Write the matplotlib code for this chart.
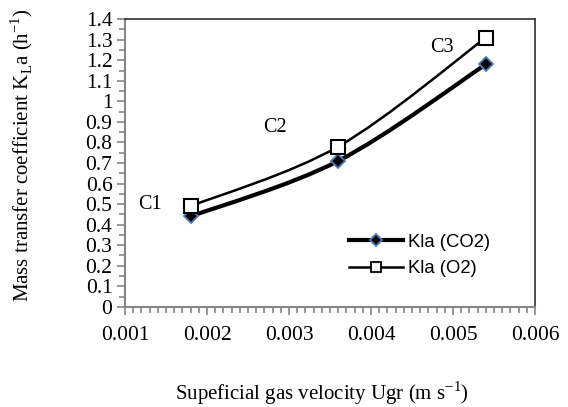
import numpy as np
import matplotlib
matplotlib.use("Agg")
import matplotlib.pyplot as plt
from matplotlib.path import Path
from matplotlib.patches import PathPatch
from matplotlib.lines import Line2D
from matplotlib.ticker import MultipleLocator

# data
ugr = [0.0018, 0.0036, 0.0054]
kla_co2 = [0.44, 0.71, 1.18]
kla_o2 = [0.49, 0.78, 1.31]
labels = ["C1", "C2", "C3"]
label_pos_x = [0.0013, 0.00283, 0.00487]
label_pos_y = [0.50, 0.875, 1.26]

plt.rcParams['font.family'] = ['Liberation Serif', 'DejaVu Serif']


def smooth_path(xs, ys):
    # Excel-like smoothed line: cubic Bezier through the points
    pts = np.column_stack([xs, ys]).astype(float)
    n = len(pts)
    verts = [pts[0]]
    codes = [Path.MOVETO]
    for i in range(n - 1):
        p0 = pts[i - 1] if i > 0 else pts[i]
        p1 = pts[i]
        p2 = pts[i + 1]
        p3 = pts[i + 2] if i + 2 < n else pts[i + 1]
        c1 = p1 + (p2 - p0) / 6
        c2 = p2 - (p3 - p1) / 6
        verts += [c1, c2, p2]
        codes += [Path.CURVE4] * 3
    return Path(verts, codes)


fig = plt.figure(figsize=(5.68, 4.07), dpi=100)
ax = fig.add_axes([0.220, 0.246, 0.722, 0.707])

ax.add_patch(PathPatch(smooth_path(ugr, kla_co2), facecolor='none',
                       edgecolor='black', lw=3.0, zorder=3))
ax.add_patch(PathPatch(smooth_path(ugr, kla_o2), facecolor='none',
                       edgecolor='black', lw=1.8, zorder=3))

ax.plot(ugr, kla_co2, linestyle='none', marker='D', ms=7, mfc='black',
        mec='#4a7ebb', mew=1.3, zorder=4)
ax.plot(ugr, kla_o2, linestyle='none', marker='s', ms=10, mfc='white',
        mec='black', mew=1.5, zorder=4)

for t, x, y in zip(labels, label_pos_x, label_pos_y):
    ax.text(x, y, t, fontsize=14.5, ha='center', va='center')

ax.set_xlim(0.001, 0.006)
ax.set_ylim(0, 1.4)
ax.xaxis.set_major_locator(MultipleLocator(0.001))
ax.xaxis.set_minor_locator(MultipleLocator(0.0001))
ax.yaxis.set_minor_locator(MultipleLocator(0.05))
ax.set_xticklabels([f"{v:g}" for v in ax.get_xticks()])
yt = np.round(np.arange(0, 1.41, 0.1), 1)
ax.set_yticks(yt)
ax.set_yticklabels([f"{v:g}" for v in yt])

ax.tick_params(which='both', direction='out', color='#868686', labelsize=15.5,
               width=1.2)
ax.tick_params(which='major', length=6)
ax.tick_params(which='minor', length=4)
ax.tick_params(axis='x', pad=8)
ax.tick_params(axis='y', pad=3)

for s in ['left', 'bottom']:
    ax.spines[s].set_color('#868686')
    ax.spines[s].set_linewidth(1.5)
for s in ['top', 'right']:
    ax.spines[s].set_color('#303030')
    ax.spines[s].set_linewidth(1.2)

fig.text(0.039, 0.62,
         "Mass transfer coefficient K$_\\mathregular{L}$a (h$^\\mathregular{-1}$)",
         fontsize=15, rotation=90, ha='center', va='center')
fig.text(0.567, 0.035, "Supeficial gas velocity Ugr (m s$^\\mathregular{-1}$)",
         fontsize=15, ha='center', va='center')

handles = [
    Line2D([], [], color='black', lw=3.0, marker='D', ms=6, mfc='black',
           mec='#4a7ebb', mew=1.3),
    Line2D([], [], color='black', lw=1.8, marker='s', ms=7, mfc='white',
           mec='black', mew=1.3),
]
leg = ax.legend(handles, ["Kla (CO2)", "Kla (O2)"], loc='center left',
                bbox_to_anchor=(0.525, 0.179), frameon=False, borderpad=0,
                prop={'family': 'Liberation Sans', 'size': 13.3},
                handlelength=2.9, handletextpad=0.25, labelspacing=0.5)

fig.savefig("out.png", dpi=100)
